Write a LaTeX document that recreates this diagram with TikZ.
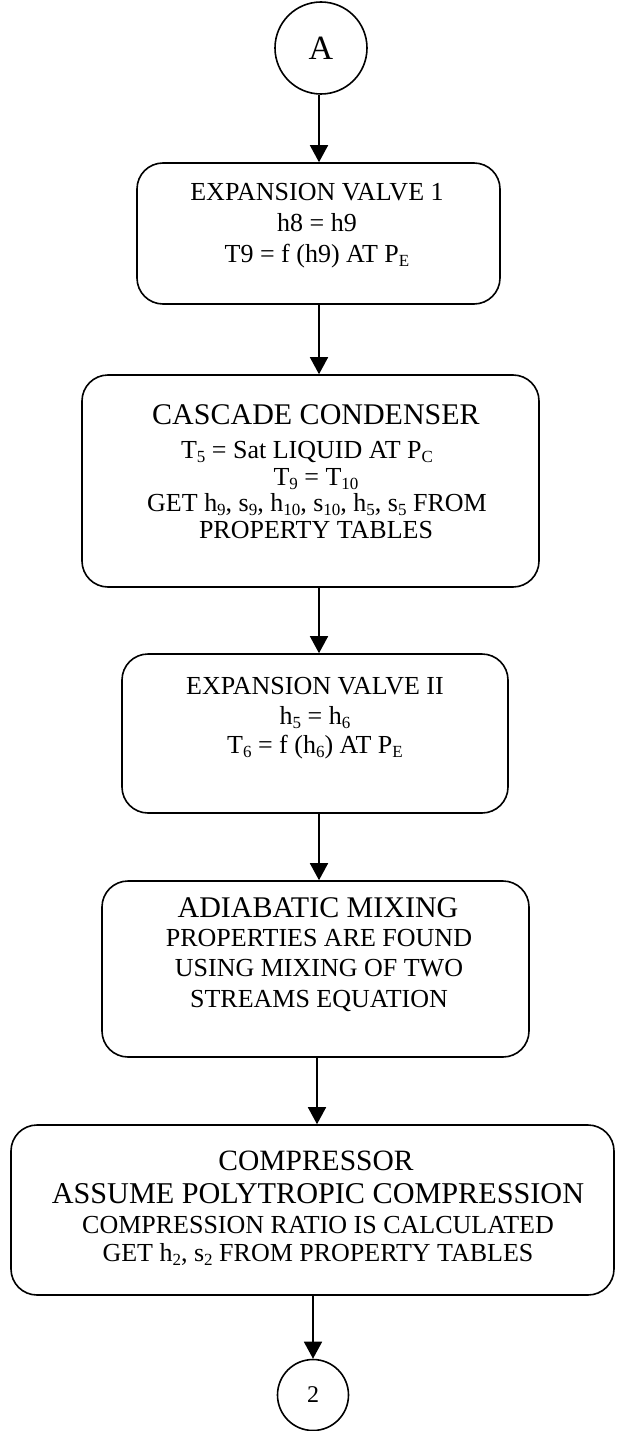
\documentclass[tikz,border=0pt]{standalone}
\usepackage{fontspec}
\setmainfont{Liberation Serif}
\usetikzlibrary{arrows.meta}
% Word-style subscript: smaller and slightly lowered
\newcommand\sbs[1]{\raisebox{-0.17em}{\fontsize{17}{17}\selectfont #1}}

\begin{document}
\begin{tikzpicture}[x=1pt,y=-1pt,
  flowbox/.style={draw, line width=1.6pt, rounded corners=26pt, inner sep=0pt},
  connector/.style={draw, line width=1.6pt, circle, inner sep=0pt},
  flowarrow/.style={line width=1.6pt, -{Triangle[length=17pt,width=18pt]}},
  txt/.style={anchor=base, inner sep=0pt, font=\fontsize{26}{31}\selectfont},
  ttl/.style={anchor=base, inner sep=0pt, font=\fontsize{30}{36}\selectfont}]

\useasboundingbox (0,0) rectangle (616,1431);

% column along which the flow arrows run
\coordinate (col) at (319,0);

% entry connector
\node[connector, minimum size=92pt, font=\fontsize{34}{38}\selectfont] (A) at (321,48) {A};

% expansion valve 1
\node[flowbox, minimum width=363pt, minimum height=141pt] (b1) at (318.5,233.5) {};
\node[txt] (b1a) at (317,201) {EXPANSION VALVE 1};
\node[txt] (b1b) at (317,232) {h8 = h9};
\node[txt] (b1c) at (317,262) {T9 = f (h9) AT P\sbs{E}};

% cascade condenser
\node[flowbox, minimum width=457pt, minimum height=212pt] (b2) at (310.5,481) {};
\node[ttl] (b2a) at (316,424) {CASCADE CONDENSER};
\node[txt] (b2b) at (307,458) {T\sbs{5} = Sat LIQUID AT P\sbs{C}};
\node[txt] (b2c) at (316,485) {T\sbs{9} = T\sbs{10}};
\node[txt] (b2d) at (317,511) {GET h\sbs{9}, s\sbs{9}, h\sbs{10}, s\sbs{10}, h\sbs{5}, s\sbs{5} FROM};
\node[txt] (b2e) at (316,538) {PROPERTY TABLES};

% expansion valve II
\node[flowbox, minimum width=386pt, minimum height=159pt] (b3) at (315,733.5) {};
\node[txt] (b3a) at (315,694) {EXPANSION VALVE II};
\node[txt] (b3b) at (315,724) {h\sbs{5} = h\sbs{6}};
\node[txt] (b3c) at (315,753) {T\sbs{6} = f (h\sbs{6}) AT P\sbs{E}};

% adiabatic mixing
\node[flowbox, minimum width=427pt, minimum height=176pt] (b4) at (315.5,969) {};
\node[ttl] (b4a) at (318,917) {ADIABATIC MIXING};
\node[txt] (b4b) at (319,946) {PROPERTIES ARE FOUND};
\node[txt] (b4c) at (319,976) {USING MIXING OF TWO};
\node[txt] (b4d) at (319,1007) {STREAMS EQUATION};

% compressor
\node[flowbox, minimum width=603pt, minimum height=170pt] (b5) at (312.5,1210) {};
\node[anchor=base, inner sep=0pt, font=\fontsize{29.5}{34}\selectfont] (b5a) at (316,1170) {COMPRESSOR};
\node[anchor=base, inner sep=0pt, font=\fontsize{30.2}{35}\selectfont] (b5b) at (318,1203) {ASSUME POLYTROPIC COMPRESSION};
\node[txt] (b5c) at (318,1233) {COMPRESSION RATIO IS CALCULATED};
\node[txt] (b5d) at (318,1261) {GET h\sbs{2}, s\sbs{2} FROM PROPERTY TABLES};

% exit connector
\node[connector, minimum size=71pt, font=\fontsize{24}{28}\selectfont] (c2) at (313,1395) {2};

% flow arrows
\draw[flowarrow] (A.south -| col) -- (b1.north -| col);
\draw[flowarrow] (b1.south -| col) -- (b2.north -| col);
\draw[flowarrow] (b2.south -| col) -- (b3.north -| col);
\draw[flowarrow] (b3.south -| col) -- (b4.north -| col);
\draw[flowarrow] ([xshift=-2pt]b4.south -| col) -- ([xshift=-2pt]b5.north -| col);
\draw[flowarrow] (b5.south -| c2) -- (c2.north);

\end{tikzpicture}
\end{document}
